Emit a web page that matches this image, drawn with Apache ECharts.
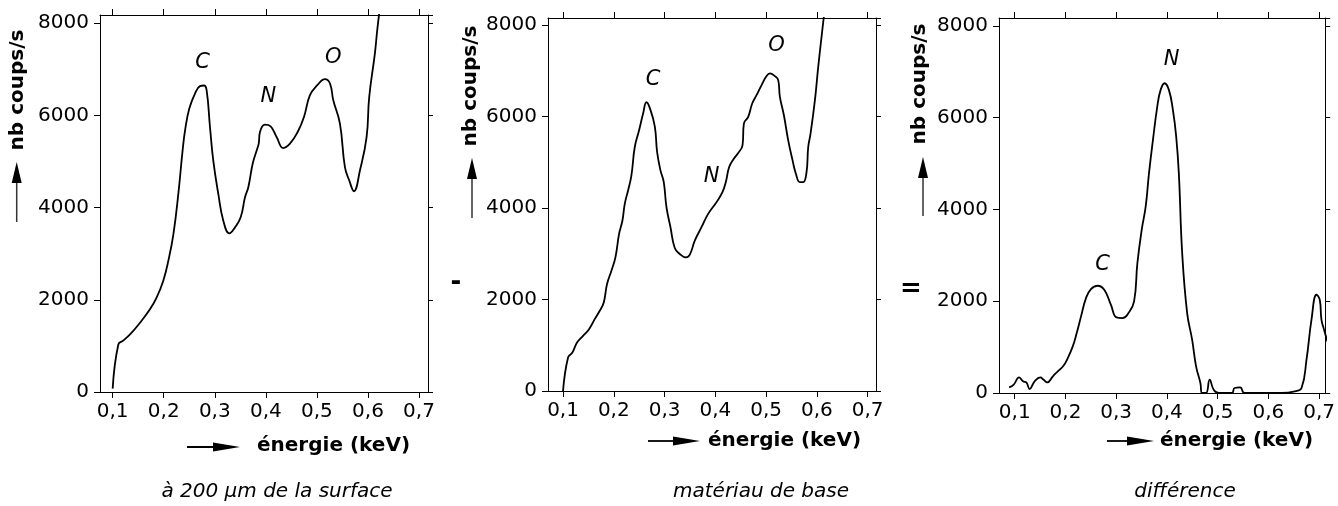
<!DOCTYPE html>
<html>
<head>
<meta charset="utf-8">
<script src="https://cdn.jsdelivr.net/npm/echarts@6/dist/echarts.min.js"></script>
<style>
html,body{margin:0;padding:0;background:#fff;}
#chart{width:1338px;height:506px;}
</style>
</head>
<body>
<div id="chart"></div>
<script>
// ---------- DATA ----------
const xTickValues = [0.1, 0.2, 0.3, 0.4, 0.5, 0.6, 0.7];
const yTickStep = 2000;

const captions = ['à 200 µm de la surface', 'matériau de base', 'différence'];
const yTitle = 'nb coups/s';
const xTitle = 'énergie (keV)';
const operators = ['-', '='];

// panel 1 : à 200 µm de la surface
const energy1 = [0.1, 0.1111, 0.1209, 0.134, 0.1535, 0.173, 0.186, 0.199, 0.209, 0.219, 0.2286, 0.237, 0.2423, 0.2501, 0.2612, 0.271, 0.2788, 0.284, 0.2906, 0.297, 0.3069, 0.3167, 0.3285, 0.3396, 0.3507, 0.3592, 0.3657, 0.3742, 0.382, 0.386, 0.3885, 0.3983, 0.4094, 0.4211, 0.4342, 0.4472, 0.4623, 0.4747, 0.4864, 0.5008, 0.5158, 0.5256, 0.5321, 0.5451, 0.5549, 0.5634, 0.5725, 0.5843, 0.5973, 0.6025, 0.6136, 0.6182, 0.623];
const counts1 = [73, 1031, 1118, 1249, 1503, 1793, 2047, 2410, 2846, 3427, 4298, 5242, 5714, 6149, 6476, 6636, 6650, 6548, 5750, 5024, 4298, 3717, 3441, 3572, 3790, 4225, 4443, 4951, 5242, 5387, 5641, 5801, 5764, 5532, 5293, 5387, 5641, 5968, 6440, 6657, 6788, 6694, 6331, 5823, 4879, 4588, 4356, 4806, 5532, 6403, 7347, 7855, 8300];
const labels1 = [['C', 0.276, 7144], ['N', 0.405, 6403], ['O', 0.532, 7260]];

// panel 2 : matériau de base
const energy2 = [0.1, 0.1099, 0.1184, 0.1276, 0.1394, 0.1512, 0.1624, 0.1723, 0.1802, 0.1867, 0.1953, 0.2032, 0.2104, 0.217, 0.2216, 0.2281, 0.2347, 0.2413, 0.2498, 0.2577, 0.2643, 0.2708, 0.2807, 0.2853, 0.2919, 0.2984, 0.3037, 0.3116, 0.3201, 0.33, 0.3418, 0.3497, 0.3595, 0.3727, 0.3858, 0.4022, 0.414, 0.4206, 0.4272, 0.4364, 0.445, 0.4535, 0.4562, 0.4647, 0.4726, 0.4811, 0.491, 0.5008, 0.5074, 0.5172, 0.5238, 0.5271, 0.535, 0.5435, 0.5521, 0.5586, 0.5665, 0.5731, 0.5796, 0.5829, 0.5875, 0.5961, 0.6026, 0.6092, 0.6144];
const counts2 = [0, 731, 840, 1059, 1205, 1352, 1571, 1753, 1936, 2338, 2630, 2922, 3434, 3726, 4091, 4384, 4712, 5333, 5699, 6064, 6312, 6188, 5786, 5224, 4822, 4566, 4018, 3580, 3127, 2995, 2922, 2981, 3288, 3580, 3872, 4128, 4347, 4566, 4895, 5078, 5202, 5370, 5845, 5991, 6283, 6466, 6685, 6883, 6941, 6883, 6795, 6429, 6027, 5479, 5041, 4749, 4566, 4566, 4785, 5333, 5626, 6356, 7086, 7744, 8255];
const labels2 = [['C', 0.2774, 6809], ['N', 0.3924, 4690], ['O', 0.5205, 7540]];

// panel 3 : différence
const energy3 = [0.0889, 0.098, 0.1085, 0.1163, 0.1229, 0.1294, 0.1392, 0.1503, 0.1569, 0.1641, 0.1752, 0.185, 0.1961, 0.2046, 0.2144, 0.2222, 0.2307, 0.2405, 0.2503, 0.2634, 0.2765, 0.2895, 0.3007, 0.3124, 0.3242, 0.3353, 0.3418, 0.3503, 0.3582, 0.3647, 0.3725, 0.381, 0.3876, 0.3954, 0.4039, 0.4118, 0.4183, 0.4235, 0.4301, 0.4399, 0.4497, 0.4575, 0.466, 0.4693, 0.4771, 0.4843, 0.4922, 0.502, 0.5281, 0.5333, 0.5444, 0.5529, 0.6261, 0.6523, 0.6654, 0.6752, 0.685, 0.6948, 0.7013, 0.7046, 0.7098, 0.7163];
const counts3 = [123, 182, 341, 254, 232, 87, 254, 341, 290, 232, 363, 472, 595, 762, 1016, 1307, 1670, 2069, 2265, 2338, 2251, 1924, 1648, 1634, 1742, 1997, 2831, 3557, 4066, 4792, 5518, 6244, 6607, 6752, 6607, 6171, 5590, 4792, 3049, 1742, 1162, 581, 218, 0, 0, 290, 73, 0, 0, 109, 123, 0, 0, 36, 109, 726, 1597, 2142, 2033, 1597, 1379, 1125];
const labels3 = [['C', 0.2732, 2795], ['N', 0.4092, 7260]];

// ---------- LAYOUT ----------
const FONT = 'DejaVu Sans';
const panels = [
  { e: energy1, c: counts1, lab: labels1, grid: {left: 100, right: 910, top: 15, bottom: 114}, xmin: 0.0752, xmax: 0.7176, ymax: 8180,
    yTitle: [17.5, 90], yArrow: [16.7, 162, 222], xArrow: [187, 240, 447], xTitlePos: [257, 446], caption: [277, 492] },
  { e: energy2, c: counts2, lab: labels2, grid: {left: 548, right: 462, top: 18, bottom: 115}, xmin: 0.0704, xmax: 0.7164, ymax: 8153,
    yTitle: [471, 86], yArrow: [472, 158, 218], xArrow: [648, 700, 441], xTitlePos: [708, 441], caption: [761, 492] },
  { e: energy3, c: counts3, lab: labels3, grid: {left: 999, right: 11, top: 18, bottom: 113}, xmin: 0.069, xmax: 0.712, ymax: 8174,
    yTitle: [920, 84], yArrow: [923, 157, 216], xArrow: [1107, 1154, 441], xTitlePos: [1160, 441], caption: [1185, 492] }
];

const option = {
  animation: false,
  backgroundColor: '#fff',
  textStyle: { fontFamily: FONT },
  grid: [], xAxis: [], yAxis: [], series: [], graphic: []
};

const axisLine = { show: true, onZero: false, lineStyle: { color: '#000', width: 1 } };

panels.forEach((p, i) => {
  option.grid.push(Object.assign({ containLabel: false }, p.grid));
  option.xAxis.push({
    type: 'value', gridIndex: i, position: 'bottom', min: p.xmin, max: p.xmax,
    axisLine: axisLine, splitLine: { show: false },
    axisTick: { show: true, inside: false, length: 6, customValues: xTickValues, lineStyle: { color: '#000' } },
    axisLabel: { show: true, customValues: xTickValues, margin: 10, color: '#000', fontSize: 20, fontFamily: FONT,
      formatter: v => v.toFixed(1).replace('.', ',') }
  });
  option.xAxis.push({
    type: 'value', gridIndex: i, position: 'top', min: p.xmin, max: p.xmax,
    axisLine: axisLine, splitLine: { show: false },
    axisTick: { show: true, inside: false, length: 6, customValues: xTickValues, lineStyle: { color: '#000' } },
    axisLabel: { show: false, customValues: xTickValues }
  });
  option.yAxis.push({
    type: 'value', gridIndex: i, position: 'left', min: 0, max: p.ymax, interval: yTickStep,
    axisLine: axisLine, splitLine: { show: false },
    axisTick: { show: true, inside: false, length: 6, lineStyle: { color: '#000' } },
    axisLabel: { show: true, margin: 11, color: '#000', fontSize: 20, fontFamily: FONT, formatter: v => String(v) }
  });
  option.yAxis.push({
    type: 'value', gridIndex: i, position: 'right', min: 0, max: p.ymax, interval: yTickStep,
    axisLine: axisLine, splitLine: { show: false },
    axisTick: { show: true, inside: false, length: 5, lineStyle: { color: '#000' } },
    axisLabel: { show: false }
  });

  option.series.push({
    type: 'line', xAxisIndex: i * 2, yAxisIndex: i * 2,
    data: p.e.map((x, k) => [x, p.c[k]]),
    showSymbol: false, smooth: 0.45, clip: true,
    lineStyle: { color: '#000', width: 1.8 },
    markPoint: {
      symbol: 'circle', symbolSize: 0, silent: true,
      label: { show: true, position: 'inside', color: '#000', fontSize: 21, fontStyle: 'italic', fontFamily: FONT,
        formatter: prm => prm.name },
      data: p.lab.map(l => ({ name: l[0], coord: [l[1], l[2]] }))
    }
  });

  option.graphic.push({
    type: 'text', x: p.yTitle[0], y: p.yTitle[1], rotation: Math.PI / 2,
    style: { text: yTitle, fontFamily: FONT, fontWeight: 'bold', fontSize: 20, fill: '#000', align: 'center', verticalAlign: 'middle' }
  });
  option.graphic.push({
    type: 'line', shape: { x1: p.yArrow[0], y1: p.yArrow[1] + 18, x2: p.yArrow[0], y2: p.yArrow[2] },
    style: { stroke: '#333', lineWidth: 1.5 }
  });
  option.graphic.push({
    type: 'polygon', shape: { points: [[p.yArrow[0], p.yArrow[1]], [p.yArrow[0] - 5, p.yArrow[1] + 21], [p.yArrow[0] + 5, p.yArrow[1] + 21]] },
    style: { fill: '#000' }
  });
  option.graphic.push({
    type: 'line', shape: { x1: p.xArrow[0], y1: p.xArrow[2], x2: p.xArrow[1] - 20, y2: p.xArrow[2] },
    style: { stroke: '#000', lineWidth: 1.8 }
  });
  option.graphic.push({
    type: 'polygon', shape: { points: [[p.xArrow[1], p.xArrow[2]], [p.xArrow[1] - 27, p.xArrow[2] - 4.5], [p.xArrow[1] - 27, p.xArrow[2] + 4.5]] },
    style: { fill: '#000' }
  });
  option.graphic.push({
    type: 'text', x: p.xTitlePos[0], y: p.xTitlePos[1],
    style: { text: xTitle, fontFamily: FONT, fontWeight: 'bold', fontSize: 20, fill: '#000', align: 'left', verticalAlign: 'middle' }
  });
  option.graphic.push({
    type: 'text', x: p.caption[0], y: p.caption[1],
    style: { text: captions[i], fontFamily: FONT, fontStyle: 'italic', fontSize: 20, fill: '#000', align: 'center', verticalAlign: 'middle' }
  });
});

option.graphic.push({
  type: 'text', x: 456, y: 283,
  style: { text: operators[0], fontFamily: FONT, fontWeight: 'bold', fontSize: 26, fill: '#000', align: 'center', verticalAlign: 'middle' }
});
option.graphic.push({
  type: 'text', x: 911, y: 289,
  style: { text: operators[1], fontFamily: FONT, fontWeight: 'bold', fontSize: 26, fill: '#000', align: 'center', verticalAlign: 'middle' }
});

const chart = echarts.init(document.getElementById('chart'), null, { renderer: 'canvas' });
chart.setOption(option);
</script>
</body>
</html>
